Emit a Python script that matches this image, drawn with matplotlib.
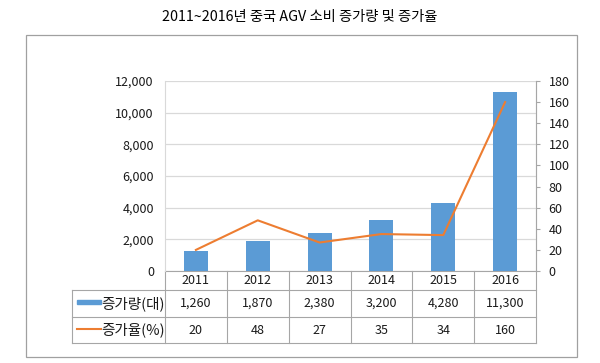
import numpy as np
import matplotlib.pyplot as plt
from matplotlib.patches import Rectangle
from matplotlib.lines import Line2D
from matplotlib.transforms import blended_transform_factory

plt.rcParams['font.family'] = ['Noto Sans CJK KR', 'DejaVu Sans']

# data
years = ['2011', '2012', '2013', '2014', '2015', '2016']
amount = [1260, 1870, 2380, 3200, 4280, 11300]      # 증가량(대)
rate = [20, 48, 27, 35, 34, 160]                     # 증가율(%)
amount_labels = ['1,260', '1,870', '2,380', '3,200', '4,280', '11,300']
series_names = ['증가량(대)', '증가율(%)']
title = '2011~2016년 중국 AGV 소비 증가량 및 증가율'

blue = '#5B9BD5'
orange = '#ED7D31'
grid_c = '#D9D9D9'
line_c = '#A6A6A6'
txt_c = '#1a1a1a'

W, H = 600, 363
fig = plt.figure(figsize=(W / 100, H / 100), dpi=100)

# outer frame
fig.patches.append(Rectangle((26 / W, 1 - 357 / H), 551 / W, 322 / H,
                             transform=fig.transFigure, fill=False,
                             edgecolor='#A0A0A0', linewidth=0.9))
fig.text(0.5, 1 - 17 / H, title, ha='center', va='center', fontsize=10.3, color='black')

# plot area
x0, x1, yt, yb = 165, 536, 81, 271
ax = fig.add_axes([x0 / W, 1 - yb / H, (x1 - x0) / W, (yb - yt) / H])
x = np.arange(len(years))
ax.bar(x, amount, width=0.39, color=blue, zorder=3)
ax.set_xlim(-0.5, len(years) - 0.5)
ax.set_ylim(0, 12000)
ax.set_yticks(np.arange(0, 12001, 2000))
ax.set_yticklabels(['{:,}'.format(v) for v in range(0, 12001, 2000)])
ax.yaxis.grid(True, color=grid_c, linewidth=0.9, zorder=0)
ax.set_xticks([])
ax.tick_params(axis='y', length=0, pad=8, labelsize=9, labelcolor=txt_c)
for s in ['top', 'bottom']:
    ax.spines[s].set_visible(False)
for s in ['left', 'right']:
    ax.spines[s].set_color(grid_c)

ax2 = ax.twinx()
ax2.plot(x, rate, color=orange, linewidth=1.5, zorder=4)
ax2.set_ylim(0, 180)
ax2.set_yticks(np.arange(0, 181, 20))
ax2.tick_params(axis='y', length=3, width=0.8, color=line_c, pad=6, labelsize=9, labelcolor=txt_c)
for s in ['top', 'bottom', 'left']:
    ax2.spines[s].set_visible(False)
ax2.spines['right'].set_color(line_c)

# data table below the axis
tr = blended_transform_factory(ax.transData, ax.transAxes)
ph = yb - yt
r0, r1, r2, r3 = 0, -19 / ph, -46 / ph, -72 / ph
left_col = -2.0
lk = dict(color=line_c, linewidth=0.8, transform=tr, clip_on=False)
ax.add_line(Line2D([-0.5, len(years) - 0.5], [r0, r0], **lk))
ax.add_line(Line2D([left_col, len(years) - 0.5], [r1, r1], **lk))
ax.add_line(Line2D([left_col, len(years) - 0.5], [r2, r2], **lk))
ax.add_line(Line2D([left_col, len(years) - 0.5], [r3, r3], **lk))
ax.add_line(Line2D([left_col, left_col], [r1, r3], **lk))
for b in np.arange(len(years) + 1) - 0.5:
    ax.add_line(Line2D([b, b], [r0, r3], **lk))

tk = dict(transform=tr, ha='center', va='center', fontsize=9, color=txt_c, clip_on=False)
for i in range(len(years)):
    ax.text(x[i], (r0 + r1) / 2, years[i], **tk)
    ax.text(x[i], (r1 + r2) / 2, amount_labels[i], **tk)
    ax.text(x[i], (r2 + r3) / 2, str(rate[i]), **tk)

# legend keys in the first column
kx0, kx1 = left_col + 0.08, left_col + 0.46
ax.add_patch(Rectangle((kx0, (r1 + r2) / 2 - 0.004), kx1 - kx0, 0.024, transform=tr,
                       color=blue, clip_on=False))
ax.add_line(Line2D([kx0, kx1], [(r2 + r3) / 2 + 0.005] * 2, color=orange, linewidth=1.5,
                   transform=tr, clip_on=False))
ax.text(kx1 + 0.01, (r1 + r2) / 2, series_names[0], transform=tr, ha='left', va='center',
        fontsize=10.5, color=txt_c, clip_on=False)
ax.text(kx1 + 0.01, (r2 + r3) / 2, series_names[1], transform=tr, ha='left', va='center',
        fontsize=10.5, color=txt_c, clip_on=False)

fig.savefig('out.png', dpi=100)
